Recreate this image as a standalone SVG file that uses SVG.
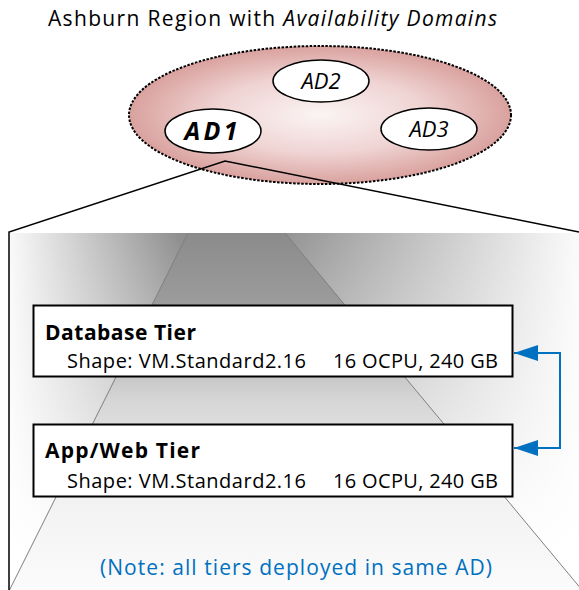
<svg xmlns="http://www.w3.org/2000/svg" width="579" height="590" viewBox="0 0 579 590">
<style>
  .t { font-family: "Open Sans", "Liberation Sans", sans-serif; fill: #000; }
  .ad { fill: #fff; stroke: #000; stroke-width: 1.5; }
  .tier { fill: #fff; stroke: #000; stroke-width: 2; }
  .persp { stroke: #7f7f7f; stroke-width: 1; fill: none; }
  .conn { stroke: #0070C0; stroke-width: 2; fill: none; }
</style>
<defs>
  <radialGradient id="regionFill" cx="0.5" cy="0.5" r="0.5">
    <stop offset="0" stop-color="#fbf4f4"/>
    <stop offset="0.55" stop-color="#efd4d3"/>
    <stop offset="1" stop-color="#d9a19e"/>
  </radialGradient>
  <linearGradient id="sideH" x1="9" y1="0" x2="579" y2="0" gradientUnits="userSpaceOnUse">
    <stop offset="0" stop-color="#fafafa"/>
    <stop offset="0.3" stop-color="#8e8e8e"/>
    <stop offset="0.46" stop-color="#8e8e8e"/>
    <stop offset="1" stop-color="#fbfbfb"/>
  </linearGradient>
  <linearGradient id="fadeV" x1="0" y1="233" x2="0" y2="590" gradientUnits="userSpaceOnUse">
    <stop offset="0" stop-color="#fff" stop-opacity="0"/>
    <stop offset="0.5" stop-color="#fff" stop-opacity="0.5"/>
    <stop offset="0.85" stop-color="#fff" stop-opacity="0.95"/>
    <stop offset="1" stop-color="#fff" stop-opacity="1"/>
  </linearGradient>
  <linearGradient id="floorV" x1="0" y1="233" x2="0" y2="590" gradientUnits="userSpaceOnUse">
    <stop offset="0" stop-color="#8b8b8b"/>
    <stop offset="0.2" stop-color="#9c9c9c"/>
    <stop offset="0.47" stop-color="#d6d6d6"/>
    <stop offset="0.75" stop-color="#f2f2f2"/>
    <stop offset="1" stop-color="#fbfbfb"/>
  </linearGradient>
  <marker id="arrow" markerUnits="userSpaceOnUse" markerWidth="24" markerHeight="16" viewBox="0 0 24 16" refX="24" refY="8" orient="auto">
    <path d="M0,0 L24,8 L0,16 z" fill="#0070C0"/>
  </marker>
  <marker id="arrowStart" markerUnits="userSpaceOnUse" markerWidth="24" markerHeight="16" viewBox="0 0 24 16" refX="24" refY="8" orient="auto-start-reverse">
    <path d="M0,0 L24,8 L0,16 z" fill="#0070C0"/>
  </marker>
</defs>

<text class="t" x="48" y="26" font-size="21" textLength="449" lengthAdjust="spacing">Ashburn Region with <tspan font-style="italic">Availability Domains</tspan></text>

<g id="region">
  <ellipse cx="320" cy="115" rx="191" ry="69" fill="url(#regionFill)" stroke="#000" stroke-width="2" stroke-dasharray="2.5 1.5"/>
</g>
<g id="ad2">
  <ellipse class="ad" cx="321" cy="81" rx="48" ry="21"/>
  <text class="t" x="321" y="89" font-size="22" font-style="italic" text-anchor="middle">AD2</text>
</g>
<g id="ad1">
  <ellipse class="ad" cx="213" cy="131" rx="48" ry="22"/>
  <text class="t" x="211" y="140" font-size="25" font-style="italic" font-weight="bold" text-anchor="middle" textLength="53" lengthAdjust="spacing">AD1</text>
</g>
<g id="ad3">
  <ellipse class="ad" cx="429" cy="129" rx="48" ry="21"/>
  <text class="t" x="429" y="137" font-size="22" font-style="italic" text-anchor="middle">AD3</text>
</g>

<g id="ad-detail">
  <rect x="9" y="233" width="570" height="357" fill="url(#sideH)"/>
  <rect x="9" y="233" width="570" height="357" fill="url(#fadeV)"/>
  <polygon points="188,233 285,233 582,590 9,590" fill="url(#floorV)"/>
  <line class="persp" x1="188" y1="233" x2="9.5" y2="590"/>
  <line class="persp" x1="285" y1="233" x2="582" y2="590"/>
  <polyline points="9,590 9,232 225,161 579,232" fill="none" stroke="#000" stroke-width="1.5"/>
</g>

<g id="db-tier">
  <rect class="tier" x="33.5" y="305.5" width="479" height="71"/>
  <text class="t" x="45" y="340" font-size="21" font-weight="bold" textLength="151" lengthAdjust="spacing">Database Tier</text>
  <text class="t" x="67" y="368" font-size="20" textLength="239" lengthAdjust="spacing">Shape: VM.Standard2.16</text>
  <text class="t" x="333" y="368" font-size="20" textLength="165" lengthAdjust="spacing">16 OCPU, 240 GB</text>
</g>
<g id="app-tier">
  <rect class="tier" x="33.5" y="424.5" width="479" height="72"/>
  <text class="t" x="45" y="458" font-size="21" font-weight="bold" textLength="155" lengthAdjust="spacing">App/Web Tier</text>
  <text class="t" x="67" y="488" font-size="20" textLength="239" lengthAdjust="spacing">Shape: VM.Standard2.16</text>
  <text class="t" x="333" y="488" font-size="20" textLength="165" lengthAdjust="spacing">16 OCPU, 240 GB</text>
</g>

<g id="connectors">
  <path class="conn" d="M514,353 H560 V448 H514" marker-start="url(#arrowStart)" marker-end="url(#arrow)"/>
</g>

<g id="note">
  <text x="100" y="575" font-size="21" fill="#0070C0" font-family="Open Sans, Liberation Sans, sans-serif" textLength="392" lengthAdjust="spacing">(Note: all tiers deployed in same AD)</text>
</g>
</svg>
